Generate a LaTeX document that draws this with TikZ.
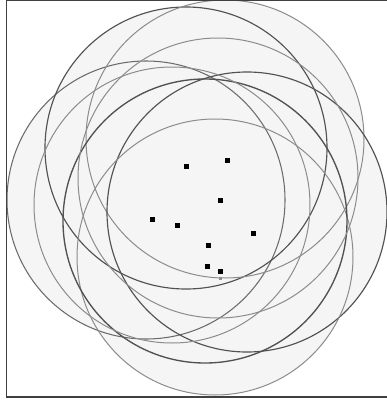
\documentclass[tikz,border=0pt]{standalone}
\begin{document}
\begin{tikzpicture}[x=1pt,y=-1pt,
  ringdark/.style={draw=black!68,line width=1.15pt},
  ringmid/.style={draw=black!58,line width=1.05pt},
  ringgray/.style={draw=black!45,line width=1.0pt},
  pt/.style={fill=black,draw=none,minimum size=5pt,inner sep=0pt,rectangle},
  ptgray/.style={fill=black!45,draw=none,minimum size=3.5pt,inner sep=0pt,rectangle}]
\useasboundingbox (0,0) rectangle (387,402);
\fill[white] (0,0) rectangle (387,402);
% disks (uniform light fill)
\foreach \cx/\cy/\r in {146/200/139,186/148/141,225/139/139,247/212/140,215/257/138,205/221/142,172/205/138,218/178/140}
  \fill[black!4] (\cx,\cy) circle (\r);
% rings
\draw[ringmid] (146,200) circle (139);
\draw[ringdark] (186,148) circle (141);
\draw[ringgray] (225,139) circle (139);
\draw[ringdark] (247,212) circle (140);
\draw[ringgray] (215,257) circle (138);
\draw[ringdark,line width=1.35pt] (205,221) circle (142);
\draw[ringgray] (172,205) circle (138);
\draw[ringgray] (218,178) circle (140);
% points
\node[pt] (p1) at (186.7,166) {};
\node[pt] (p2) at (227.7,160.3) {};
\node[pt] (p3) at (220.3,200) {};
\node[pt] (p4) at (152,219.3) {};
\node[pt] (p5) at (177.7,225) {};
\node[pt] (p6) at (253.3,233.3) {};
\node[pt] (p7) at (208.7,245.3) {};
\node[pt] (p8) at (207,266) {};
\node[pt] (p9) at (220.7,271) {};
\node[ptgray] (p10) at (220.7,278.3) {};
% frame
\draw[black!75,line width=1.2pt] (6.5,0.8) -- (390,0.8);
\draw[black!75,line width=1.2pt] (6.5,0) -- (6.5,397);
\draw[black!75,line width=1.2pt] (6,397) -- (390,397);
\end{tikzpicture}
\end{document}
